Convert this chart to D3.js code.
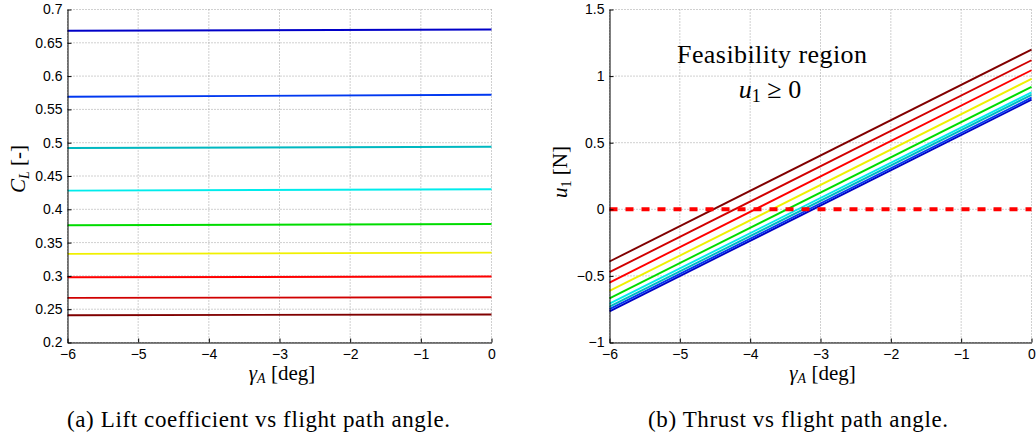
<!DOCTYPE html>
<html>
<head>
<meta charset="utf-8">
<script src="https://cdn.jsdelivr.net/npm/d3@7"></script>
<style>
body { margin: 0; background: #fff; }
</style>
</head>
<body>
<div id="grafico"></div>
<script>
// Datos (extremos de cada recta, gamma = -6 y gamma = 0)
var gammaExtremos = [-6, 0];
var colores = ["#0000c8", "#0038f0", "#00b8c0", "#00ecec", "#00dc00", "#f0f000", "#ff0000", "#d00000", "#800000"];
var clInicio = [0.668, 0.569, 0.492, 0.428, 0.376, 0.333, 0.298, 0.267, 0.241];
var clFin = [0.670, 0.572, 0.494, 0.430, 0.378, 0.335, 0.299, 0.268, 0.242];
var u1Inicio = [-0.766, -0.750, -0.731, -0.708, -0.668, -0.613, -0.550, -0.472, -0.392];
var u1Fin = [0.823, 0.838, 0.859, 0.878, 0.919, 0.979, 1.044, 1.119, 1.199];
var limiteU1 = [0, 0];

var ticksX = [-6, -5, -4, -3, -2, -1, 0];
var ticksCL = [0.2, 0.25, 0.3, 0.35, 0.4, 0.45, 0.5, 0.55, 0.6, 0.65, 0.7];
var ticksU1 = [-1, -0.5, 0, 0.5, 1, 1.5];

var width = 1036;
var height = 440;
var arriba = 9.5;
var abajo = 342.5;
var serif = "'Liberation Serif', 'Times New Roman', serif";
var sans = "'Liberation Sans', Arial, sans-serif";

var svg = d3.select("#grafico")
    .append("svg")
    .attr("width", width)
    .attr("height", height);

// Dibuja un panel con rejilla, rectas y ejes
function dibujarPanel(izq, der, dominioY, ticksY, inicio, fin) {
    var x = d3.scaleLinear().domain([-6, 0]).range([izq, der]);
    var y = d3.scaleLinear().domain(dominioY).range([abajo, arriba]);
    var g = svg.append("g");

    // Rejilla punteada
    g.selectAll(".gx").data(ticksX).enter().append("line")
        .attr("x1", function(d) { return x(d); })
        .attr("x2", function(d) { return x(d); })
        .attr("y1", arriba).attr("y2", abajo)
        .attr("stroke", "#a0a0a0").attr("stroke-dasharray", "1,2");
    g.selectAll(".gy").data(ticksY).enter().append("line")
        .attr("x1", izq).attr("x2", der)
        .attr("y1", function(d) { return y(d); })
        .attr("y2", function(d) { return y(d); })
        .attr("stroke", "#a0a0a0").attr("stroke-dasharray", "1,2");

    // Rectas
    var linea = d3.line()
        .x(function(d) { return x(d[0]); })
        .y(function(d) { return y(d[1]); });
    colores.forEach(function(c, i) {
        var puntos = [[gammaExtremos[0], inicio[i]], [gammaExtremos[1], fin[i]]];
        g.append("path")
            .attr("d", linea(puntos))
            .attr("fill", "none")
            .attr("stroke", c)
            .attr("stroke-width", 1.9);
    });

    var formato = d3.format("~g");
    var ejeX = g.append("g")
        .attr("transform", "translate(0," + abajo + ")")
        .call(d3.axisBottom(x).tickValues(ticksX).tickSizeInner(-4).tickSizeOuter(0).tickPadding(7).tickFormat(formato));
    var ejeY = g.append("g")
        .attr("transform", "translate(" + izq + ",0)")
        .call(d3.axisLeft(y).tickValues(ticksY).tickSizeInner(-4).tickSizeOuter(0).tickPadding(5).tickFormat(formato));
    [ejeX, ejeY].forEach(function(e) {
        e.attr("font-family", sans).attr("font-size", 14);
        e.selectAll("text").attr("fill", "#000");
        e.selectAll("path, line").attr("stroke", "#000");
    });

    return { x: x, y: y, g: g };
}

// Panel (a): coeficiente de sustentacion
var panelA = dibujarPanel(67.5, 491.5, [0.2, 0.7], ticksCL, clInicio, clFin);

// Panel (b): empuje
var panelB = dibujarPanel(609.5, 1031.5, [-1, 1.5], ticksU1, u1Inicio, u1Fin);

// Limite de factibilidad u1 = 0
panelB.g.insert("path", "g")
    .attr("d", d3.line()
        .x(function(d) { return panelB.x(d[0]); })
        .y(function(d) { return panelB.y(d[1]); })([[gammaExtremos[0], limiteU1[0]], [gammaExtremos[1], limiteU1[1]]]))
    .attr("stroke", "#ff0000")
    .attr("stroke-width", 4)
    .attr("stroke-dasharray", "8,8");

// Texto serif centrado
function texto(x, y, size) {
    return svg.append("text")
        .attr("x", x).attr("y", y)
        .attr("text-anchor", "middle")
        .attr("font-family", serif).attr("font-size", size);
}

var esp = "\u00a0";

// Texto de la region factible
texto(772, 63, 26).attr("textLength", 190).attr("lengthAdjust", "spacing").text("Feasibility region");
var t = texto(770, 98, 26);
t.append("tspan").attr("font-style", "italic").text("u");
t.append("tspan").attr("font-size", 18).attr("dy", 4).text("1");
t.append("tspan").attr("dy", -4).text(esp + "≥" + esp + "0");

// Etiquetas de los ejes
function etiquetaX(cx) {
    var e = texto(cx, 380, 21);
    e.append("tspan").attr("font-style", "italic").text("γ");
    e.append("tspan").attr("font-style", "italic").attr("font-size", 14).attr("dy", 3).text("A");
    e.append("tspan").attr("dy", -3).text(esp + "[deg]");
}
etiquetaX(282);
etiquetaX(822.5);

var eCL = texto(0, 0, 21)
    .attr("x", null).attr("y", null)
    .attr("transform", "translate(25,169) rotate(-90)");
eCL.append("tspan").attr("font-style", "italic").text("C");
eCL.append("tspan").attr("font-style", "italic").attr("font-size", 14).attr("dy", 4).text("L");
eCL.append("tspan").attr("dy", -4).text(esp + "[-]");

var eU = texto(0, 0, 21)
    .attr("x", null).attr("y", null)
    .attr("transform", "translate(567,172) rotate(-90)");
eU.append("tspan").attr("font-style", "italic").text("u");
eU.append("tspan").attr("font-size", 14).attr("dy", 4).text("1");
eU.append("tspan").attr("dy", -4).text(esp + "[N]");

// Leyendas de las subfiguras
texto(258.5, 427, 23).attr("textLength", 383).attr("lengthAdjust", "spacing").text("(a) Lift coefficient vs flight path angle.");
texto(798, 427, 23).attr("textLength", 300).attr("lengthAdjust", "spacing").text("(b) Thrust vs flight path angle.");
</script>
</body>
</html>
